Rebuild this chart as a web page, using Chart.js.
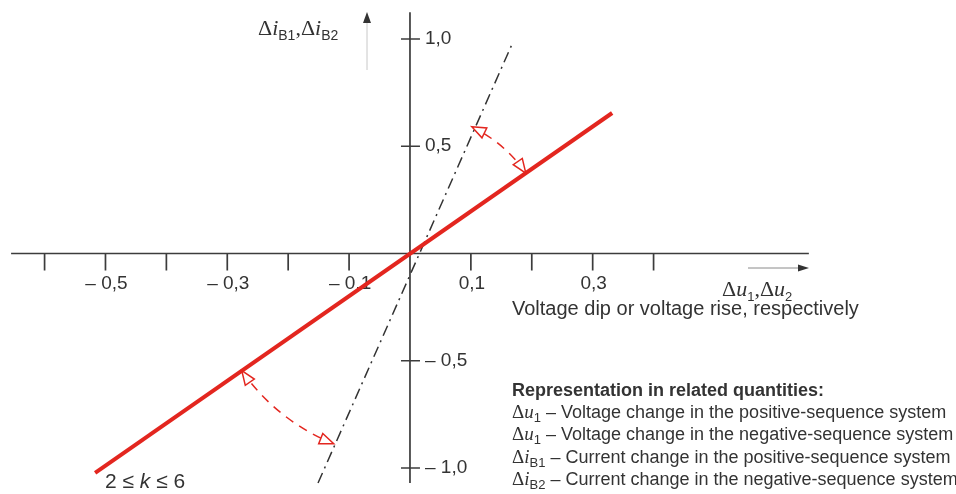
<!DOCTYPE html>
<html>
<head>
<meta charset="utf-8">
<script src="https://cdn.jsdelivr.net/npm/chart.js@4.4.1/dist/chart.umd.min.js"></script>
<style>
  html, body { margin: 0; padding: 0; background: #fff; }
  #wrap { width: 956px; height: 494px; position: relative; }
</style>
</head>
<body>
<div id="wrap"><canvas id="chart"></canvas></div>
<script>
// ----- data -----
const redX = [-0.517, 0.332];          // characteristic, k = 2
const redY = [-1.023, 0.655];
const kLineX = [-0.151, 0.167];        // limit, k = 6
const kLineY = [-1.07, 0.972];
const xTickValues = [-0.6, -0.5, -0.4, -0.3, -0.2, -0.1, 0.1, 0.2, 0.3, 0.4];
const xTickLabels = ["", "– 0,5", "", "– 0,3", "", "– 0,1", "0,1", "", "0,3", ""];
const yTickValues = [1.0, 0.5, -0.5, -1.0];
const yTickLabels = ["1,0", "0,5", "– 0,5", "– 1,0"];
const xAxisSpan = [-0.655, 0.655];
const yAxisSpan = [-1.07, 1.125];
const noteSymbols = ["u", "u", "i", "i"];
const noteSubs = ["1", "1", "B1", "B2"];
const noteTexts = [
  " – Voltage change in the positive-sequence system",
  " – Voltage change in the negative-sequence system",
  " – Current change in the positive-sequence system",
  " – Current change in the negative-sequence system"
];

// ----- style -----
const RED = "#e3261f", AXIS = "#3c3c3c", TEXT = "#333";
const SANS = '"Liberation Sans", Arial, sans-serif';
const SERIF = '"Liberation Serif", "Times New Roman", serif';

function runs(ctx, x, y, parts) {
  for (const p of parts) {
    ctx.font = p.f;
    ctx.fillText(p.t, x, y + (p.dy || 0));
    x += ctx.measureText(p.t).width;
  }
  return x;
}
const delta = (sym, sub, size, subSize, dy) => [
  { t: "\u0394", f: `${size}px ${SERIF}` },
  { t: sym, f: `italic ${size}px ${SERIF}` },
  { t: sub, f: `${subSize}px ${SANS}`, dy }
];

function openHead(ctx, tx, ty, dx, dy, len, half) {
  const bx = tx - dx * len, by = ty - dy * len;
  ctx.beginPath();
  ctx.moveTo(tx, ty);
  ctx.lineTo(bx - dy * half, by + dx * half);
  ctx.lineTo(bx + dy * half, by - dx * half);
  ctx.closePath();
  ctx.fillStyle = "#fff"; ctx.fill();
  ctx.setLineDash([]); ctx.stroke();
}

function solidHead(ctx, tx, ty, dx, dy, len, half) {
  const bx = tx - dx * len, by = ty - dy * len;
  ctx.beginPath();
  ctx.moveTo(tx, ty);
  ctx.lineTo(bx - dy * half, by + dx * half);
  ctx.lineTo(bx + dy * half, by - dx * half);
  ctx.closePath();
  ctx.fill();
}

// ----- axes drawn through the scales -----
const axesPlugin = {
  id: "crossAxes",
  beforeDatasetsDraw(chart) {
    const { ctx, scales: { x, y } } = chart;
    const x0 = x.getPixelForValue(0), y0 = y.getPixelForValue(0);
    ctx.save();
    ctx.strokeStyle = AXIS; ctx.lineWidth = 1.7;
    ctx.beginPath();
    ctx.moveTo(x.getPixelForValue(xAxisSpan[0]), y0); ctx.lineTo(x.getPixelForValue(xAxisSpan[1]), y0);
    ctx.moveTo(x0, y.getPixelForValue(yAxisSpan[1])); ctx.lineTo(x0, y.getPixelForValue(yAxisSpan[0]));
    xTickValues.forEach(v => { const px = x.getPixelForValue(v); ctx.moveTo(px, y0); ctx.lineTo(px, y0 + 17); });
    yTickValues.forEach(v => { const py = y.getPixelForValue(v); ctx.moveTo(x0 - 9, py); ctx.lineTo(x0 + 10, py); });
    ctx.stroke();

    ctx.fillStyle = TEXT; ctx.font = `19px ${SANS}`; ctx.textBaseline = "middle";
    ctx.textAlign = "center";
    xTickValues.forEach((v, i) => { if (xTickLabels[i]) ctx.fillText(xTickLabels[i], x.getPixelForValue(v) + 1, y0 + 30); });
    ctx.textAlign = "left";
    yTickValues.forEach((v, i) => ctx.fillText(yTickLabels[i], x0 + 15, y.getPixelForValue(v)));

    // small direction arrows next to the axes
    ctx.strokeStyle = "#c8c8c8"; ctx.lineWidth = 1;
    ctx.beginPath(); ctx.moveTo(367, 70); ctx.lineTo(367, 22); ctx.stroke();
    ctx.fillStyle = "#333"; solidHead(ctx, 367, 12, 0, -1, 11, 4);
    ctx.strokeStyle = "#8a8a8a";
    ctx.beginPath(); ctx.moveTo(748, 268); ctx.lineTo(798, 268); ctx.stroke();
    solidHead(ctx, 809, 268, 1, 0, 11, 3.5);
    ctx.restore();
  },
  afterDatasetsDraw(chart) {
    const { ctx, scales: { x, y } } = chart;
    const ox = x.getPixelForValue(0), oy = y.getPixelForValue(0);
    const ang = (vx, vy) => Math.atan2(y.getPixelForValue(vy) - oy, x.getPixelForValue(vx) - ox);
    const arcs = [
      { r: 141, a1: ang(kLineX[1], kLineY[1]), a2: ang(redX[1], redY[1]) },
      { r: 205, a1: ang(kLineX[0], kLineY[0]), a2: ang(redX[0], redY[0]) }
    ];
    ctx.save();
    ctx.strokeStyle = RED; ctx.lineWidth = 1.5;
    arcs.forEach(({ r, a1, a2 }) => {
      const len = 14, da = len / r;
      ctx.setLineDash([9, 7]);
      ctx.beginPath(); ctx.arc(ox, oy, r, a1 + da, a2 - da); ctx.stroke();
      openHead(ctx, ox + r * Math.cos(a2), oy + r * Math.sin(a2), -Math.sin(a2), Math.cos(a2), len, 5.5);
      openHead(ctx, ox + r * Math.cos(a1), oy + r * Math.sin(a1), Math.sin(a1), -Math.cos(a1), len, 5.5);
    });
    ctx.restore();
  },
  afterDraw(chart) {
    const { ctx } = chart;
    ctx.save();
    ctx.fillStyle = TEXT; ctx.textBaseline = "alphabetic"; ctx.textAlign = "left";
    // axis titles
    let cx = runs(ctx, 258, 35, delta("i", "B1", 22, 14, 5));
    cx = runs(ctx, cx, 35, [{ t: ",", f: `22px ${SERIF}` }]);
    runs(ctx, cx, 35, delta("i", "B2", 22, 14, 5));
    cx = runs(ctx, 722, 296, delta("u", "1", 22, 13, 5));
    cx = runs(ctx, cx, 296, [{ t: ",", f: `22px ${SERIF}` }]);
    runs(ctx, cx, 296, delta("u", "2", 22, 13, 5));
    ctx.font = `20px ${SANS}`;
    ctx.fillText("Voltage dip or voltage rise, respectively", 512, 315);
    // notes
    ctx.font = `bold 18px ${SANS}`;
    ctx.fillText("Representation in related quantities:", 512, 396);
    noteTexts.forEach((t, i) => {
      const by = 418 + i * 22.4;
      const end = runs(ctx, 512, by, delta(noteSymbols[i], noteSubs[i], 19, 13, 4));
      runs(ctx, end, by, [{ t, f: `18px ${SANS}` }]);
    });
    // k range
    runs(ctx, 105, 488, [
      { t: "2 ≤ ", f: `21px ${SANS}` },
      { t: "k", f: `italic 21px ${SANS}` },
      { t: " ≤ 6", f: `21px ${SANS}` }
    ]);
    ctx.restore();
  }
};

new Chart(document.getElementById("chart"), {
  type: "scatter",
  data: {
    datasets: [
      { data: redX.map((v, i) => ({ x: v, y: redY[i] })), showLine: true, borderColor: RED, borderWidth: 4, pointRadius: 0 },
      { data: kLineX.map((v, i) => ({ x: v, y: kLineY[i] })), showLine: true, borderColor: "#333", borderWidth: 1.5, borderDash: [11, 5, 2, 5], pointRadius: 0 }
    ]
  },
  options: {
    responsive: true, maintainAspectRatio: false, animation: false, events: [],
    layout: { padding: 0 },
    plugins: { legend: { display: false }, tooltip: { enabled: false } },
    scales: {
      x: { type: "linear", min: -0.6732, max: 0.8966, display: false },
      y: { type: "linear", min: -1.1212, max: 1.1818, display: false }
    }
  },
  plugins: [axesPlugin]
});
</script>
</body>
</html>
